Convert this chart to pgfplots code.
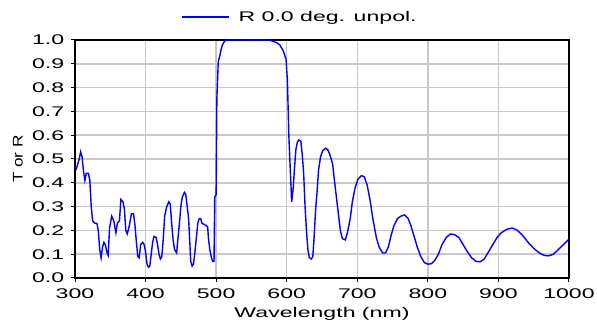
\documentclass[border=0pt]{standalone}
\usepackage{fontspec}
\setmainfont[FakeStretch=1.65]{Liberation Sans}
\newfontfamily\ylabfont[FakeStretch=1.23]{Liberation Sans}
\usepackage{pgfplots}
\pgfplotsset{compat=1.18}
\definecolor{gridgray}{RGB}{200,200,200}
\pgfplotstableread{
x y
300 0.47
302 0.46
304 0.48
306 0.50
308 0.53
310 0.51
312 0.45
314 0.41
316 0.44
319 0.44
321 0.41
323 0.30
325 0.24
328 0.23
331 0.23
333 0.20
335 0.12
337 0.085
339 0.13
341 0.15
343 0.14
345 0.11
347 0.095
349 0.21
352 0.26
355 0.24
358 0.19
360 0.23
363 0.24
365 0.33
368 0.32
370 0.29
372 0.20
374 0.185
377 0.22
380 0.27
383 0.27
385 0.22
387 0.15
389 0.09
391 0.085
393 0.14
396 0.15
398 0.14
400 0.11
402 0.06
404 0.045
406 0.05
408 0.10
410 0.15
412 0.175
415 0.17
417 0.14
419 0.10
421 0.08
423 0.09
425 0.16
427 0.26
430 0.30
433 0.32
435 0.31
437 0.23
439 0.16
441 0.12
444 0.105
446 0.17
448 0.23
450 0.30
452 0.34
455 0.36
457 0.35
459 0.30
461 0.25
463 0.13
464 0.07
466 0.05
468 0.06
470 0.11
472 0.17
474 0.23
476 0.25
478 0.25
480 0.23
483 0.225
486 0.22
488 0.215
489 0.17
491 0.12
493 0.09
495 0.07
497 0.07
498 0.34
500 0.35
501 0.75
503 0.91
505 0.93
507 0.96
509 0.98
512 0.995
515 1.0
575 1.0
585 0.99
590 0.98
595 0.955
599 0.92
601 0.83
603 0.60
605 0.46
607 0.32
609 0.37
611 0.46
613 0.54
615 0.57
617 0.58
620 0.575
622 0.52
624 0.44
626 0.30
628 0.20
630 0.12
632 0.085
635 0.08
637 0.09
639 0.18
641 0.29
643 0.36
645 0.45
648 0.51
651 0.535
655 0.545
658 0.54
661 0.52
665 0.48
668 0.40
672 0.30
676 0.20
679 0.165
683 0.16
686 0.19
690 0.25
693 0.32
697 0.38
701 0.415
706 0.43
710 0.425
714 0.39
718 0.33
722 0.25
727 0.17
731 0.13
736 0.105
740 0.105
744 0.13
748 0.18
752 0.22
757 0.25
762 0.26
767 0.265
772 0.25
776 0.22
780 0.18
785 0.13
790 0.09
795 0.065
800 0.058
805 0.06
810 0.075
815 0.10
820 0.14
826 0.17
832 0.185
838 0.182
844 0.17
850 0.14
856 0.11
862 0.085
868 0.07
874 0.068
880 0.08
886 0.11
892 0.14
898 0.17
904 0.19
912 0.205
920 0.21
927 0.20
934 0.18
942 0.15
950 0.125
958 0.105
965 0.095
971 0.093
978 0.10
985 0.12
992 0.14
1000 0.163
}\datatable
\begin{document}
\fontsize{14}{16}\selectfont
\begin{tikzpicture}
\useasboundingbox (0,0) rectangle (597pt,320pt);
\begin{axis}[
  at={(75pt,42pt)}, anchor=south west,
  scale only axis, width=494pt, height=238pt,
  xmin=300, xmax=1000, ymin=0, ymax=1,
  xtick={300,400,500,600,700,800,900,1000},
  ytick={0,0.1,0.2,0.3,0.4,0.5,0.6,0.7,0.8,0.9,1.0},
  /pgf/number format/assume math mode=true,
  /pgf/number format/1000 sep={},
  yticklabel={\pgfmathprintnumber[fixed,fixed zerofill,precision=1]{\tick}},
  grid=major,
  major grid style={gridgray, line width=1.5pt},
  axis line style={black, line width=1.5pt},
  tick align=outside, tick pos=left,
  major tick length=4pt,
  tick style={black, line width=1pt},
  ticklabel style={font=\fontsize{14}{16}\selectfont},
  yticklabel style={xshift=-2pt},
  xticklabel style={yshift=-2pt},
  xlabel={Wavelength (nm)},
  ylabel={\ylabfont T or R},
  every axis x label/.style={at={(axis description cs:0.5,-0.168)}, anchor=base, font=\fontsize{14}{16}\selectfont},
  every axis y label/.style={at={(axis description cs:-0.1154,0.5)}, rotate=90, anchor=center, font=\fontsize{14}{16}\selectfont},
  legend style={draw=none, fill=none, at={(axis description cs:0.2146,1)}, anchor=west, yshift=23pt,
    inner sep=0pt, nodes={inner sep=0pt}, /tikz/column sep=9pt, font=\fontsize{14}{16}\selectfont},
  legend image code/.code={\draw[#1] (0pt,0pt) -- (47pt,0pt);},
]
\addplot[color={rgb,255:red,0;green,0;blue,255}, line width=1.4pt] table[x=x,y=y] {\datatable};
\addlegendentry{R 0.0 deg. unpol.}
\end{axis}
\end{tikzpicture}
\end{document}
